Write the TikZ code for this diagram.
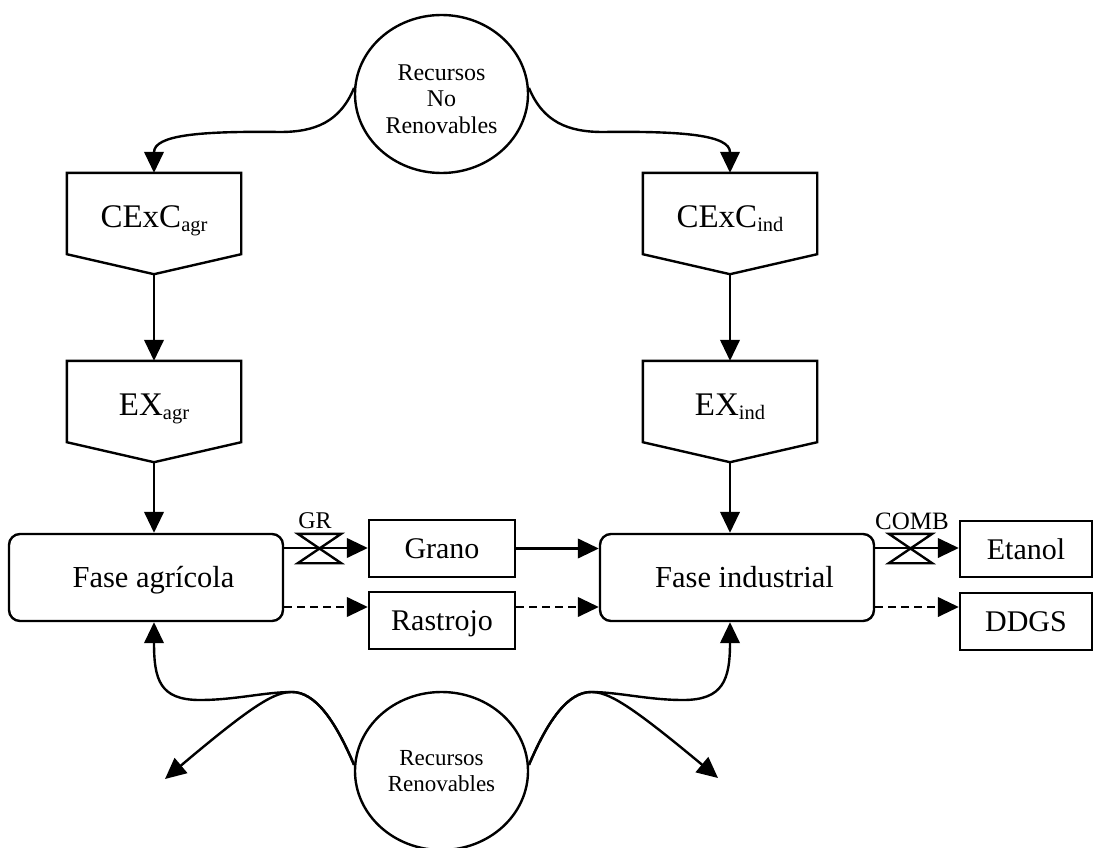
\documentclass[tikz,border=0pt]{standalone}
\usepackage{fontspec}
\setmainfont{Liberation Serif}
\usetikzlibrary{arrows.meta,shapes.geometric,calc}
\newcommand{\fsz}[1]{\fontsize{#1}{#1}\selectfont}
\newcommand{\lsub}[1]{\raisebox{-4pt}{\fsz{20.5}#1}}
\begin{document}
\begin{tikzpicture}[x=1pt,y=-1pt,
  ln/.style={line width=2.4pt},
  arr/.style={ln,-{Triangle[length=21pt,width=19.5pt]}},
  darr/.style={arr,dash pattern=on 8pt off 5pt},
  pentbox/.style={minimum width=174pt,minimum height=81pt,inner sep=0pt,text height=27.5pt,text depth=0pt},
  phase/.style={draw,ln,rounded corners=11pt,minimum width=274pt,minimum height=87pt,inner sep=0pt,font=\fsz{30.5},text height=19pt,text depth=0pt},
  prod/.style={draw,ln,minimum width=146pt,minimum height=57pt,inner sep=0pt,font=\fsz{30},text height=20.5pt,text depth=0pt},
  res/.style={draw,ln,ellipse,minimum width=173pt,minimum height=158pt,inner sep=0pt,align=center},
  valve/.style={minimum width=43pt,minimum height=29pt,inner sep=0pt},
  lab/.style={inner sep=0pt}
]
\useasboundingbox (0,0) rectangle (1097,848);

% resources
\node[res,font=\fontsize{24}{26.5}\selectfont] (nr) at (441.5,94) {\rule{0pt}{26pt}Recursos\\No\\Renovables};
\node[res,font=\fontsize{23}{26}\selectfont] (rr) at (441.5,771) {Recursos\\Renovables};

% pentagons
\node[pentbox] (c1) at (154,213.5) {\fsz{33}CExC\lsub{agr}};
\node[pentbox] (c2) at (154,401.5) {\fsz{33}EX\lsub{agr}};
\node[pentbox] (c3) at (730,213.5) {\fsz{33}CExC\lsub{ind}};
\node[pentbox] (c4) at (730,401.5) {\fsz{33}EX\lsub{ind}};
\foreach \p in {c1,c2,c3,c4}{
  \coordinate (\p t) at ($(\p.south)+(0,20)$);
  \draw[ln] (\p.north west) -- (\p.north east) -- (\p.south east) -- (\p t) -- (\p.south west) -- cycle;
}

% phases and products
\node[phase] (fa) at (146,577.5) {\hspace*{15pt}Fase agrícola};
\node[phase] (fi) at (737,577.5) {\hspace*{15pt}Fase industrial};
\node[prod] (gr) at (442,548.5) {Grano};
\node[prod] (ra) at (442,620.5) {Rastrojo};
\node[prod,minimum width=132pt,minimum height=56pt] (et) at (1026,549) {Etanol};
\node[prod,minimum width=132pt,minimum height=57pt] (dd) at (1026,621.5) {DDGS};

% valves
\node[valve] (v1) at (319.5,548.5) {};
\node[valve] (v2) at (910.5,548.5) {};
\foreach \v in {v1,v2}{
  \draw[ln] (\v.north west) -- (\v.north east) -- (\v.south west) -- (\v.south east) -- cycle;
}
\node[lab,font=\fsz{24}] (l1) at (315,521) {GR};
\node[lab,font=\fsz{25}] (l2) at (912,521) {COMB};

% top curves
\draw[arr] (nr.176) .. controls (340,122) and (315,132) .. (280,132)
  .. controls (200,131) and (154,135) .. (c1.north);
\draw[arr] (nr.4) .. controls (543,122) and (568,132) .. (603,132)
  .. controls (683,131) and (730,135) .. (c3.north);

% vertical
\draw[arr] (c1t) -- (c2.north);
\draw[arr] (c2t) -- (c2t |- fa.north);
\draw[arr] (c3t) -- (c4.north);
\draw[arr] (c4t) -- (c4t |- fi.north);

% horizontal flows
\draw[arr] ([yshift=29.5pt]fa.east) -- ([yshift=29.5pt]fa.east -| gr.west);
\draw[darr] ([yshift=-29.5pt]fa.east) -- ([yshift=-29.5pt]fa.east -| ra.west);
\draw[arr] (gr.east) -- (gr.east -| fi.west);
\draw[darr] ([yshift=-29.5pt]fi.west -| ra.east) -- ([yshift=-29.5pt]fi.west);
\draw[arr] ([yshift=29.5pt]fi.east) -- ([yshift=29.5pt]fi.east -| et.west);
\draw[darr] ([yshift=-29.5pt]fi.east) -- ([yshift=-29.5pt]fi.east -| dd.west);

% bottom curves
\coordinate (bl) at (165,779);
\coordinate (br) at (718,778);
\draw[arr] (rr.176) .. controls (335,720) and (315,692) .. (292,692)
  .. controls (265,692) and (235,700) .. (200,700)
  .. controls (160,700) and (154,680) .. (c2t |- fa.south);
\draw[arr] (rr.176) .. controls (335,720) and (315,692) .. (292,692)
  .. controls (275,692) and (255,703) .. (bl);
\draw[arr] (rr.4) .. controls (548,720) and (568,692) .. (591,692)
  .. controls (618,692) and (648,700) .. (683,700)
  .. controls (723,700) and (730,680) .. (c4t |- fi.south);
\draw[arr] (rr.4) .. controls (548,720) and (568,692) .. (591,692)
  .. controls (608,692) and (628,703) .. (br);
\end{tikzpicture}
\end{document}
